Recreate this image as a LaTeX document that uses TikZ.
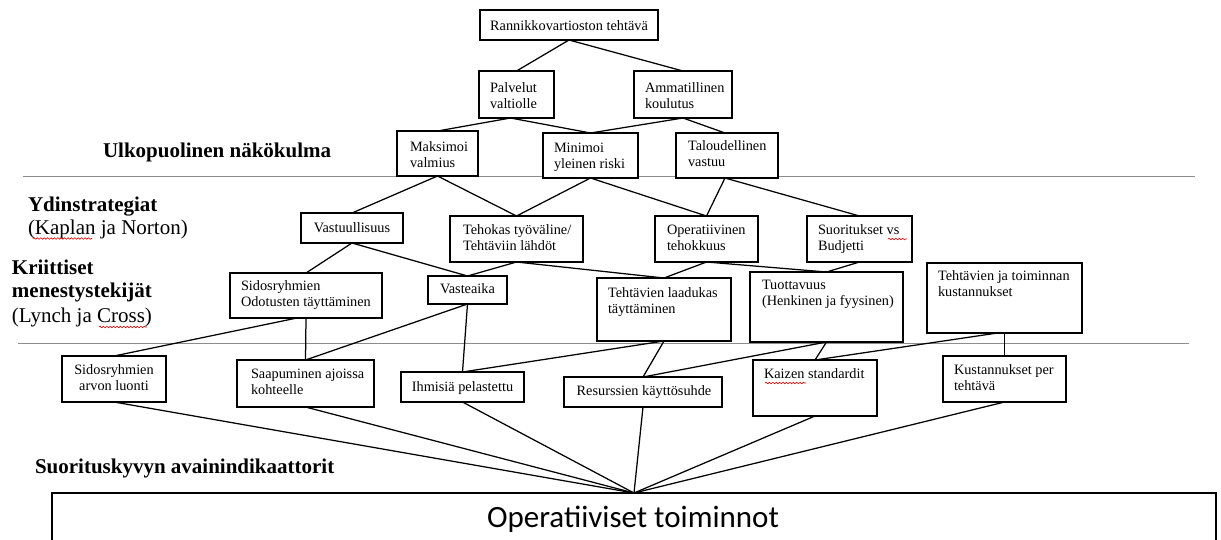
\documentclass[tikz,border=0pt]{standalone}
\usepackage{fontspec}
\setmainfont{Liberation Serif}
\newfontfamily\opsfont{Carlito}
\usetikzlibrary{fit,calc,decorations.pathmorphing}

\tikzset{
  box/.style={draw=black, line width=1.3pt, fill=white, inner sep=0pt, outer sep=0pt},
  txt/.style={inner sep=0pt, outer sep=0pt, align=left, font=\fontsize{14.3}{16.5}\selectfont},
  heading/.style={inner sep=0pt, outer sep=0pt, anchor=base west, align=left, font=\fontsize{21}{23.5}\selectfont\bfseries},
  subhead/.style={inner sep=0pt, outer sep=0pt, anchor=base west, font=\fontsize{21}{23.5}\selectfont},
  link/.style={draw=black, line width=1.25pt},
  divider/.style={draw=black!45, line width=0.9pt},
  spell/.style={draw=red!85!black, line width=0.6pt, decorate,
    decoration={snake, amplitude=0.8pt, segment length=3.4pt}}
}

\begin{document}
\begin{tikzpicture}[x=1pt,y=-1pt]
\useasboundingbox (0,0) rectangle (1221,539);
\clip (0,0) rectangle (1221,539);

% section dividers
\coordinate (d1a) at (23,176);  \coordinate (d1b) at (1195,176);
\coordinate (d2a) at (18,343);  \coordinate (d2b) at (1189,343);
\draw[divider] (d1a) -- (d1b);
\draw[divider] (d2a) -- (d2b);

% boxes
\node[box, fit={(480,10) (658,40)}] (rt) {};
\node[box, fit={(479,71) (554,118)}] (pal) {};
\node[box, fit={(634,71) (732,118)}] (amm) {};
\node[box, fit={(397,131) (478,176)}] (mak) {};
\node[box, fit={(543,133) (638,178)}] (mini) {};
\node[box, fit={(676,133) (778,178)}] (tal) {};
\node[box, fit={(301,213) (403,243)}] (vas) {};
\node[box, fit={(450,216) (583,262)}] (teh) {};
\node[box, fit={(655,216) (758,262)}] (ope) {};
\node[box, fit={(807,216) (912,262)}] (suo) {};
\node[box, fit={(230,273) (382,318)}] (sid) {};
\node[box, fit={(428,276) (507,304)}] (vst) {};
\node[box, fit={(597,278) (731,341)}] (laa) {};
\node[box, fit={(750,272) (903,342)}] (tuo) {};
\node[box, fit={(927,263) (1082,333)}] (kus) {};
\node[box, fit={(62,356) (166,402)}] (arv) {};
\node[box, fit={(237,360) (374,407)}] (saa) {};
\node[box, fit={(401,372) (524,402)}] (ihm) {};
\node[box, fit={(564,377) (722,407)}] (res) {};
\node[box, fit={(753,360) (877,416)}] (kai) {};
\node[box, fit={(943,356) (1066,402)}] (kpt) {};
\node[box, fit={(52,493) (1216,570)}] (ops) {};

% connectors
\draw[link] (rt.south) -- (pal.north);
\draw[link] (rt.south) -- (amm.north);
\draw[link] ($(pal.south)+(-6,0)$) -- (mak.north);
\draw[link] ($(pal.south)+(-6,0)$) -- (mini.north);
\draw[link] (amm.south) -- (mini.north);
\draw[link] (amm.south) -- ($(tal.north)+(-2,0)$);
\draw[link] (mak.south) -- (vas.north);
\draw[link] (mak.south) -- (teh.north);
\draw[link] (mini.south) -- (teh.north);
\draw[link] (mini.south) -- (ope.north);
\draw[link] ($(tal.south)+(-2,0)$) -- (ope.north);
\draw[link] ($(tal.south)+(-2,0)$) -- (suo.north);
\draw[link] (vas.south) -- (sid.north);
\draw[link] (vas.south) -- (vst.north);
\draw[link] (teh.south) -- (vst.north);
\draw[link] (teh.south) -- (laa.north);
\draw[link] (ope.south) -- (laa.north);
\draw[link] (ope.south) -- (tuo.north);
\draw[link] (suo.south) -- (tuo.north);
\draw[link] ($(sid.south)+(-9,0)$) -- (arv.north);
\draw[link] (sid.south) -- (saa.north);
\draw[link] (vst.south) -- (saa.north);
\draw[link] (vst.south) -- (ihm.north);
\draw[link] (laa.south) -- (ihm.north);
\draw[link] (laa.south) -- (res.north);
\draw[link] (tuo.south) -- (res.north);
\draw[link] (tuo.south) -- (kai.north);
\draw[link] ($(kus.south)+(-7,0)$) -- (kai.north);
\draw[link] (kus.south) -- (kpt.north);
\foreach \k in {arv,saa,ihm,res,kai,kpt}
  \draw[link] (\k.south) -- (ops.north);

% box texts (multi-line nodes sit on the baseline of their last line)
\node[txt, anchor=base] (t-rt) at (569,30) {Rannikkovartioston tehtävä};
\node[txt, anchor=base west] (t-pal) at (490,108.5) {Palvelut\\valtiolle};
\node[txt, anchor=base west] (t-amm) at (645,108.5) {Ammatillinen\\koulutus};
\node[txt, anchor=base west] (t-mak) at (410,167.5) {Maksimoi\\valmius};
\node[txt, anchor=base west] (t-min) at (554,168.5) {Minimoi\\yleinen riski};
\node[txt, anchor=base west] (t-tal) at (688,166.5) {Taloudellinen\\vastuu};
\node[txt, anchor=base] (t-vas) at (352,232) {Vastuullisuus};
\node[txt, anchor=base west] (t-teh) at (463,250.5) {Tehokas työväline/\\Tehtäviin lähdöt};
\node[txt, anchor=base west] (t-ope) at (667,250.5) {Operatiivinen\\tehokkuus};
\node[txt, anchor=base west] (t-suo) at (818,250.5) {Suoritukset vs\\Budjetti};
\node[txt, anchor=base west] (t-sid) at (241,306.5) {Sidosryhmien\\Odotusten täyttäminen};
\node[txt, anchor=base] (t-vst) at (467.5,293) {Vasteaika};
\node[txt, anchor=base west] (t-laa) at (608,313.5) {Tehtävien laadukas\\täyttäminen};
\node[txt, anchor=base west] (t-tuo) at (762,305.5) {Tuottavuus\\(Henkinen ja fyysinen)};
\node[txt, anchor=base west] (t-kus) at (938,296.5) {Tehtävien ja toiminnan\\kustannukset};
\node[txt, anchor=base, align=center] (t-arv) at (114,390.5) {Sidosryhmien\\arvon luonti};
\node[txt, anchor=base west] (t-saa) at (251,394.5) {Saapuminen ajoissa\\kohteelle};
\node[txt, anchor=base] (t-ihm) at (462.5,391) {Ihmisiä pelastettu};
\node[txt, anchor=base] (t-res) at (644,395) {Resurssien käyttösuhde};
\node[txt, anchor=base west] (t-kai) at (764,378) {Kaizen standardit};
\node[txt, anchor=base west] (t-kpt) at (954,390.5) {Kustannukset per\\tehtävä};
\node[inner sep=0pt, anchor=base, font=\opsfont\fontsize{31}{36}\selectfont] (t-ops) at (633,527) {Operatiiviset toiminnot};

% level headings
\node[heading] (h-ulk) at (103,157) {Ulkopuolinen näkökulma};
\node[heading] (h-ydin) at (28,211) {Ydinstrategiat};
\node[subhead] (h-kap) at (28,234) {(Kaplan ja Norton)};
\node[heading] (h-kri) at (12,274) {Kriittiset};
\node[heading] (h-men) at (12,297) {menestystekijät};
\node[subhead] (h-lyn) at (12,322) {(Lynch ja Cross)};
\node[heading] (h-suo) at (35,473) {Suorituskyvyn avainindikaattorit};

% spell-check underlines
\draw[spell] (33,238.5) -- (92,238.5);
\draw[spell] (99,327) -- (147,327);
\draw[spell] (888,239) -- (907,239);
\draw[spell] (765,383) -- (806,383);
\end{tikzpicture}
\end{document}
